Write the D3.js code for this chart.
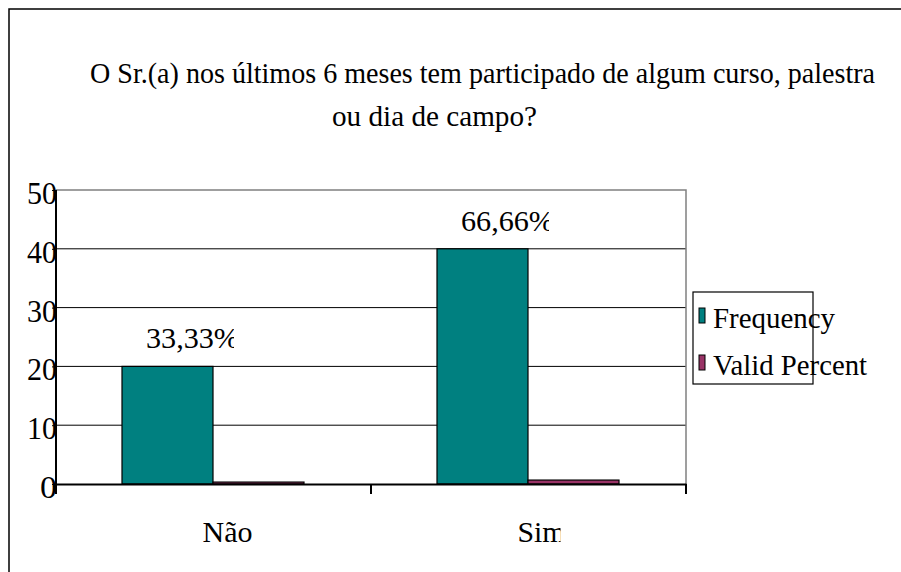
<!DOCTYPE html>
<html>
<head>
<meta charset="utf-8">
<script src="https://cdn.jsdelivr.net/npm/d3@7"></script>
<style>
  body { margin: 0; background: #fff; }
  svg { display: block; }
</style>
</head>
<body>
<svg id="chart" width="901" height="572"></svg>
<script>
// ====== Datos ======
const categories = ["Não", "Sim"];
const series = ["Frequency", "Valid Percent"];
const frequency = [20, 40];
const validPercent = [0.33, 0.67];
const pctLabels = ["33,33%", "66,66%"];
const yTicks = [0, 10, 20, 30, 40, 50];
const titleLines = [
  "O Sr.(a) nos últimos 6 meses tem participado de algum curso, palestra",
  "ou dia de campo?"
];
const colors = ["#008080", "#993366"];

// ====== Layout ======
const svg = d3.select("#chart");
const plot = { left: 56, right: 686, top: 190, bottom: 484 };
const FONT = 30;
const SERIF = "Liberation Serif";

// todas las etiquetas con la misma fuente (Times-like)
function serif(sel, size) {
  return sel.style("font-family", SERIF).attr("font-size", size || FONT)
    .attr("fill", "#000").attr("lengthAdjust", "spacingAndGlyphs");
}

// marco exterior (se corta a la derecha / abajo como en el original)
svg.append("rect")
  .attr("x", 9).attr("y", 9)
  .attr("width", 1000).attr("height", 1000)
  .attr("fill", "#fff").attr("stroke", "#000").attr("stroke-width", 1.5);

// título, dos líneas apretadas
const titlePos = [{ x: 90, y: 83, w: 785 }, { x: 332, y: 126, w: 205 }];
svg.selectAll("text.title")
  .data(titleLines)
  .join("text")
  .attr("class", "title")
  .attr("x", (d, i) => titlePos[i].x)
  .attr("y", (d, i) => titlePos[i].y)
  .attr("textLength", (d, i) => titlePos[i].w)
  .call(serif, 30)
  .text(d => d);

// ====== Escalas ======
const y = d3.scaleLinear().domain([0, 50]).range([plot.bottom, plot.top]);
const x0 = d3.scaleBand().domain(categories).range([plot.left, plot.right]);
const x1 = d3.scaleBand().domain(series).range([66, 248]);

const g = svg.append("g");

// grilla
g.append("g")
  .selectAll("line")
  .data(yTicks.filter(t => t > 0 && t < 50))
  .join("line")
  .attr("x1", plot.left).attr("x2", plot.right)
  .attr("y1", d => y(d)).attr("y2", d => y(d))
  .attr("stroke", "#000").attr("stroke-width", 1);

// borde del área (gris arriba y a la derecha)
g.append("path")
  .attr("d", `M${plot.left},${y(50)}H${plot.right}V${plot.bottom}`)
  .attr("fill", "none").attr("stroke", "#808080").attr("stroke-width", 1.5);

// barras
const groups = g.selectAll("g.cat")
  .data(categories)
  .join("g")
  .attr("class", "cat")
  .attr("transform", d => `translate(${x0(d)},0)`);

groups.selectAll("rect")
  .data((d, i) => [
    { s: series[0], v: frequency[i], c: colors[0] },
    { s: series[1], v: validPercent[i], c: colors[1] }
  ])
  .join("rect")
  .attr("x", d => x1(d.s))
  .attr("width", x1.bandwidth())
  .attr("y", d => y(d.v))
  .attr("height", d => y(0) - y(d.v))
  .attr("fill", d => d.c)
  .attr("stroke", "#000").attr("stroke-width", 1.2);

// eje X
const xAxis = g.append("g")
  .attr("transform", `translate(0,${plot.bottom})`)
  .call(d3.axisBottom(x0).tickSize(0).tickFormat(""));
xAxis.select(".domain").attr("stroke", "#000").attr("stroke-width", 2);
xAxis.selectAll("line.sep")
  .data([plot.left, x0("Sim"), plot.right])
  .join("line")
  .attr("class", "sep")
  .attr("x1", d => d).attr("x2", d => d)
  .attr("y1", 0).attr("y2", 10)
  .attr("stroke", "#000").attr("stroke-width", 2);

// etiquetas de categoría (recortadas como en el original)
const defs = svg.append("defs");
const catW = [50, 43];
categories.forEach((c, i) => {
  defs.append("clipPath").attr("id", "clipCat" + i)
    .append("rect")
    .attr("x", x0(c) + x0.bandwidth() / 2 - 11)
    .attr("y", 500).attr("width", catW[i]).attr("height", 60);
});
g.selectAll("text.cat")
  .data(categories)
  .join("text")
  .attr("class", "cat")
  .attr("x", d => x0(d) + x0.bandwidth() / 2 - 11)
  .attr("y", 542)
  .attr("clip-path", (d, i) => `url(#clipCat${i})`)
  .attr("textLength", (d, i) => i === 0 ? 50 : 48)
  .call(serif)
  .text(d => d);

// eje Y
const yAxis = g.append("g")
  .attr("transform", `translate(${plot.left},0)`)
  .call(d3.axisLeft(y).tickValues(yTicks).tickSize(4).tickFormat(""));
yAxis.select(".domain").attr("d", `M0,${y(50)}V${plot.bottom + 10}`)
  .attr("stroke", "#000").attr("stroke-width", 2);
yAxis.selectAll(".tick line").attr("stroke", "#000");

g.selectAll("text.ytick")
  .data(yTicks)
  .join("text")
  .attr("class", "ytick")
  .attr("x", plot.left + 1)
  .attr("y", d => y(d) + 14)
  .attr("text-anchor", "end")
  .attr("textLength", d => d === 0 ? 17 : 30)
  .call(serif, 31)
  .text(d => d);

// etiquetas de porcentaje sobre Frequency
categories.forEach((c, i) => {
  const lx = x0(c) + x1(series[0]) + 24;
  defs.append("clipPath").attr("id", "clipPct" + i)
    .append("rect")
    .attr("x", lx).attr("y", y(frequency[i]) - 50)
    .attr("width", 88).attr("height", 50);
  g.append("text")
    .attr("x", lx)
    .attr("y", y(frequency[i]) - 18)
    .attr("clip-path", `url(#clipPct${i})`)
    .attr("textLength", 93)
    .call(serif)
    .text(pctLabels[i]);
});

// ====== Leyenda ======
const legend = svg.append("g").attr("transform", "translate(693,292)");
legend.append("rect")
  .attr("width", 120).attr("height", 92)
  .attr("fill", "none").attr("stroke", "#000").attr("stroke-width", 1.2);
const legW = [122, 154];
const item = legend.selectAll("g.item")
  .data(series)
  .join("g")
  .attr("class", "item")
  .attr("transform", (d, i) => `translate(0,${16 + i * 47})`);
item.append("rect")
  .attr("x", 6).attr("y", 0)
  .attr("width", 6).attr("height", 15)
  .attr("fill", (d, i) => colors[i])
  .attr("stroke", "#000").attr("stroke-width", 1);
item.append("text")
  .attr("x", 20).attr("y", 20)
  .attr("textLength", (d, i) => legW[i])
  .call(serif)
  .text(d => d);
</script>
</body>
</html>
